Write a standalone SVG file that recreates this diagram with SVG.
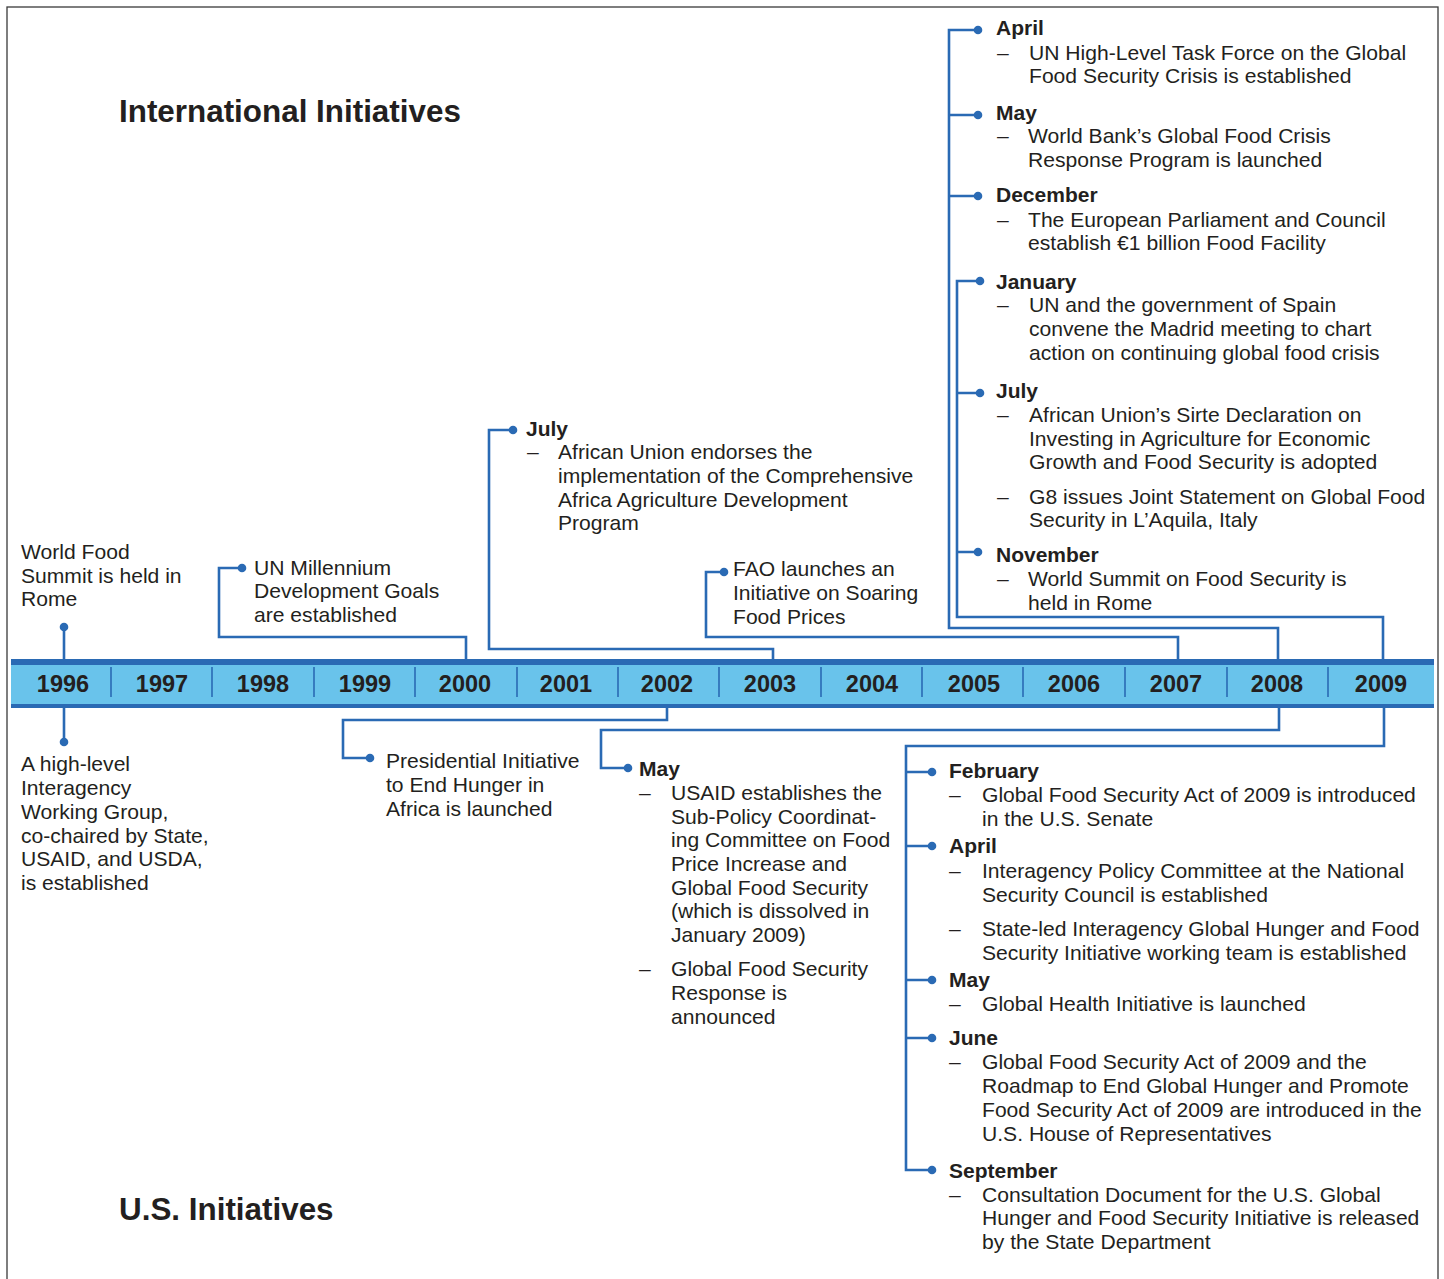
<svg xmlns="http://www.w3.org/2000/svg" width="1444" height="1279" viewBox="0 0 1444 1279">
<style>
text{font-family:"Liberation Sans",Arial,Helvetica,sans-serif;fill:#231f20}
.t{font-size:21.1px}
.h{font-size:21px;font-weight:bold}
.title{font-size:31.4px;font-weight:bold}
.yr{font-size:23.5px;font-weight:bold;text-anchor:middle}
.ln{fill:none;stroke:#2a6ab4;stroke-width:2.6}
.dot{fill:#2a6ab4}
.div{stroke:#2a6ab4;stroke-width:1.6}
</style>
<rect x="0" y="0" width="1444" height="1279" fill="#fff"/>
<rect x="7" y="7" width="1431" height="1290" fill="none" stroke="#3a3a3a" stroke-width="1.3"/>

<g id="titles">
<text class="title" x="119" y="122">International Initiatives</text>
<text class="title" x="119" y="1220">U.S. Initiatives</text>
</g>

<g id="timeline">
<rect x="11" y="659" width="1423" height="49" fill="#2a6ab4"/>
<rect x="11" y="665" width="1423" height="39" fill="#69c3eb"/>
<g class="div">
<line x1="111" y1="667" x2="111" y2="697"/><line x1="212" y1="667" x2="212" y2="697"/>
<line x1="314" y1="667" x2="314" y2="697"/><line x1="415" y1="667" x2="415" y2="697"/>
<line x1="517" y1="667" x2="517" y2="697"/><line x1="618" y1="667" x2="618" y2="697"/>
<line x1="719" y1="667" x2="719" y2="697"/><line x1="821" y1="667" x2="821" y2="697"/>
<line x1="922" y1="667" x2="922" y2="697"/><line x1="1023" y1="667" x2="1023" y2="697"/>
<line x1="1125" y1="667" x2="1125" y2="697"/><line x1="1227" y1="667" x2="1227" y2="697"/>
<line x1="1328" y1="667" x2="1328" y2="697"/>
</g>
<text class="yr" x="63" y="692">1996</text>
<text class="yr" x="162" y="692">1997</text>
<text class="yr" x="263" y="692">1998</text>
<text class="yr" x="365" y="692">1999</text>
<text class="yr" x="465" y="692">2000</text>
<text class="yr" x="566" y="692">2001</text>
<text class="yr" x="667" y="692">2002</text>
<text class="yr" x="770" y="692">2003</text>
<text class="yr" x="872" y="692">2004</text>
<text class="yr" x="974" y="692">2005</text>
<text class="yr" x="1074" y="692">2006</text>
<text class="yr" x="1176" y="692">2007</text>
<text class="yr" x="1277" y="692">2008</text>
<text class="yr" x="1381" y="692">2009</text>
</g>

<g id="connectors">
<path class="ln" d="M64 659V627"/>
<path class="ln" d="M64 708V742"/>
<path class="ln" d="M466 659V637H219V568H242"/>
<path class="ln" d="M773 659V649H489V430H513"/>
<path class="ln" d="M1178 659V637H706V572H724"/>
<path class="ln" d="M1278 659V628H949V30H978M949 115H978M949 196H978"/>
<path class="ln" d="M1383 659V617H957V281H980M957 393H980M957 552H978"/>
<path class="ln" d="M667 708V720H343V758H370"/>
<path class="ln" d="M1279 708V730H601V768H628"/>
<path class="ln" d="M1384 708V746H906V1170H932M906 772H932M906 846H932M906 980H932M906 1038H932"/>
<g class="dot">
<circle cx="64" cy="627" r="4.3"/><circle cx="64" cy="742" r="4.3"/>
<circle cx="242" cy="568" r="4.3"/><circle cx="513" cy="430" r="4.3"/>
<circle cx="724" cy="572" r="4.3"/>
<circle cx="978" cy="30" r="4.3"/><circle cx="978" cy="115" r="4.3"/><circle cx="978" cy="196" r="4.3"/>
<circle cx="980" cy="281" r="4.3"/><circle cx="980" cy="393" r="4.3"/><circle cx="978" cy="552" r="4.3"/>
<circle cx="370" cy="758" r="4.3"/><circle cx="628" cy="768" r="4.3"/>
<circle cx="932" cy="772" r="4.3"/><circle cx="932" cy="846" r="4.3"/><circle cx="932" cy="980" r="4.3"/>
<circle cx="932" cy="1038" r="4.3"/><circle cx="932" cy="1170" r="4.3"/>
</g>
</g>

<g id="n1996-top">
<text class="t"><tspan x="21" y="559">World Food</tspan><tspan x="21" y="583">Summit is held in</tspan><tspan x="21" y="606">Rome</tspan></text>
</g>
<g id="n1996-bottom">
<text class="t"><tspan x="21" y="771">A high-level</tspan><tspan x="21" y="795">Interagency</tspan><tspan x="21" y="819">Working Group,</tspan><tspan x="21" y="843">co-chaired by State,</tspan><tspan x="21" y="866">USAID, and USDA,</tspan><tspan x="21" y="890">is established</tspan></text>
</g>
<g id="n2000">
<text class="t"><tspan x="254" y="575">UN Millennium</tspan><tspan x="254" y="598">Development Goals</tspan><tspan x="254" y="622">are established</tspan></text>
</g>
<g id="n2003">
<text class="h" x="526" y="436">July</text>
<text class="t" x="527" y="459">–</text>
<text class="t"><tspan x="558" y="459">African Union endorses the</tspan><tspan x="558" y="483">implementation of the Comprehensive</tspan><tspan x="558" y="507">Africa Agriculture Development</tspan><tspan x="558" y="530">Program</tspan></text>
</g>
<g id="n2007">
<text class="t"><tspan x="733" y="576">FAO launches an</tspan><tspan x="733" y="600">Initiative on Soaring</tspan><tspan x="733" y="624">Food Prices</tspan></text>
</g>
<g id="n2008-intl">
<text class="h" x="996" y="35">April</text>
<text class="t" x="997" y="60">–</text>
<text class="t"><tspan x="1029" y="60">UN High-Level Task Force on the Global</tspan><tspan x="1029" y="83">Food Security Crisis is established</tspan></text>
<text class="h" x="996" y="120">May</text>
<text class="t" x="997" y="143">–</text>
<text class="t"><tspan x="1028" y="143">World Bank’s Global Food Crisis</tspan><tspan x="1028" y="167">Response Program is launched</tspan></text>
<text class="h" x="996" y="202">December</text>
<text class="t" x="997" y="227">–</text>
<text class="t"><tspan x="1028" y="227">The European Parliament and Council</tspan><tspan x="1028" y="250">establish €1 billion Food Facility</tspan></text>
</g>
<g id="n2009-intl">
<text class="h" x="996" y="289">January</text>
<text class="t" x="997" y="312">–</text>
<text class="t"><tspan x="1029" y="312">UN and the government of Spain</tspan><tspan x="1029" y="336">convene the Madrid meeting to chart</tspan><tspan x="1029" y="360">action on continuing global food crisis</tspan></text>
<text class="h" x="996" y="398">July</text>
<text class="t" x="997" y="422">–</text>
<text class="t"><tspan x="1029" y="422">African Union’s Sirte Declaration on</tspan><tspan x="1029" y="446">Investing in Agriculture for Economic</tspan><tspan x="1029" y="469">Growth and Food Security is adopted</tspan></text>
<text class="t" x="997" y="504">–</text>
<text class="t"><tspan x="1029" y="504">G8 issues Joint Statement on Global Food</tspan><tspan x="1029" y="527">Security in L’Aquila, Italy</tspan></text>
<text class="h" x="996" y="562">November</text>
<text class="t" x="997" y="586">–</text>
<text class="t"><tspan x="1028" y="586">World Summit on Food Security is</tspan><tspan x="1028" y="610">held in Rome</tspan></text>
</g>
<g id="n2002-us">
<text class="t"><tspan x="386" y="768">Presidential Initiative</tspan><tspan x="386" y="792">to End Hunger in</tspan><tspan x="386" y="816">Africa is launched</tspan></text>
</g>
<g id="n2008-us">
<text class="h" x="639" y="776">May</text>
<text class="t" x="639" y="800">–</text>
<text class="t"><tspan x="671" y="800">USAID establishes the</tspan><tspan x="671" y="824">Sub-Policy Coordinat-</tspan><tspan x="671" y="847">ing Committee on Food</tspan><tspan x="671" y="871">Price Increase and</tspan><tspan x="671" y="895">Global Food Security</tspan><tspan x="671" y="918">(which is dissolved in</tspan><tspan x="671" y="942">January 2009)</tspan></text>
<text class="t" x="639" y="976">–</text>
<text class="t"><tspan x="671" y="976">Global Food Security</tspan><tspan x="671" y="1000">Response is</tspan><tspan x="671" y="1024">announced</tspan></text>
</g>
<g id="n2009-us">
<text class="h" x="949" y="778">February</text>
<text class="t" x="949" y="802">–</text>
<text class="t"><tspan x="982" y="802">Global Food Security Act of 2009 is introduced</tspan><tspan x="982" y="826">in the U.S. Senate</tspan></text>
<text class="h" x="949" y="853">April</text>
<text class="t" x="949" y="878">–</text>
<text class="t"><tspan x="982" y="878">Interagency Policy Committee at the National</tspan><tspan x="982" y="902">Security Council is established</tspan></text>
<text class="t" x="949" y="936">–</text>
<text class="t"><tspan x="982" y="936">State-led Interagency Global Hunger and Food</tspan><tspan x="982" y="960">Security Initiative working team is established</tspan></text>
<text class="h" x="949" y="987">May</text>
<text class="t" x="949" y="1011">–</text>
<text class="t" x="982" y="1011">Global Health Initiative is launched</text>
<text class="h" x="949" y="1045">June</text>
<text class="t" x="949" y="1069">–</text>
<text class="t"><tspan x="982" y="1069">Global Food Security Act of 2009 and the</tspan><tspan x="982" y="1093">Roadmap to End Global Hunger and Promote</tspan><tspan x="982" y="1117">Food Security Act of 2009 are introduced in the</tspan><tspan x="982" y="1141">U.S. House of Representatives</tspan></text>
<text class="h" x="949" y="1178">September</text>
<text class="t" x="949" y="1202">–</text>
<text class="t"><tspan x="982" y="1202">Consultation Document for the U.S. Global</tspan><tspan x="982" y="1225">Hunger and Food Security Initiative is released</tspan><tspan x="982" y="1249">by the State Department</tspan></text>
</g>
</svg>
